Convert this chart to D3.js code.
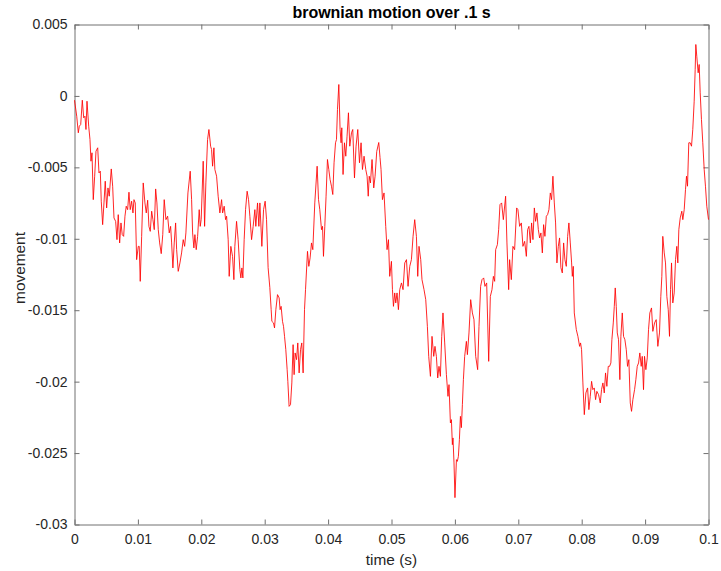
<!DOCTYPE html>
<html>
<head>
<meta charset="utf-8">
<script src="https://cdn.jsdelivr.net/npm/d3@7"></script>
<style>
  html, body { margin: 0; padding: 0; background: #fff; }
  svg { display: block; }
</style>
</head>
<body>
<script>
const titleText = "brownian motion over .1 s";
const xLabelText = "time (s)";
const yLabelText = "movement";

const xTicks = [0, 0.01, 0.02, 0.03, 0.04, 0.05, 0.06, 0.07, 0.08, 0.09, 0.1];
const xTickLabels = ["0", "0.01", "0.02", "0.03", "0.04", "0.05", "0.06", "0.07", "0.08", "0.09", "0.1"];
const yTicks = [0.005, 0, -0.005, -0.01, -0.015, -0.02, -0.025, -0.03];
const yTickLabels = ["0.005", "0", "-0.005", "-0.01", "-0.015", "-0.02", "-0.025", "-0.03"];

const time = [
0, 0.00035, 0.00060, 0.00076, 0.00098, 0.00123, 0.00145, 0.00165, 0.00181, 0.00197,
0.00224, 0.00244, 0.00260, 0.00276, 0.00296, 0.00318, 0.00339, 0.00366, 0.00386, 0.00407,
0.00422, 0.00444, 0.00465, 0.00485, 0.00507, 0.00528, 0.00548, 0.00580, 0.00602, 0.00623,
0.00649, 0.00670, 0.00690, 0.00712, 0.00733, 0.00753, 0.00775, 0.00796, 0.00816, 0.00838,
0.00859, 0.00879, 0.00901, 0.00922, 0.00938, 0.00958, 0.00980, 0.01006, 0.01021, 0.01037,
0.01059, 0.01084, 0.01111, 0.01132, 0.01154, 0.01174, 0.01195, 0.01217, 0.01237, 0.01258,
0.01280, 0.01300, 0.01321, 0.01343, 0.01368, 0.01392, 0.01415, 0.01442, 0.01469, 0.01494,
0.01516, 0.01532, 0.01552, 0.01573, 0.01595, 0.01611, 0.01636, 0.01663, 0.01689, 0.01715,
0.01737, 0.01757, 0.01789, 0.01825, 0.01847, 0.01863, 0.01883, 0.01899, 0.01920, 0.01942,
0.01967, 0.01983, 0.01998, 0.02030, 0.02052, 0.02072, 0.02099, 0.02120, 0.02147, 0.02162,
0.02178, 0.02199, 0.02214, 0.02241, 0.02266, 0.02293, 0.02320, 0.02336, 0.02361, 0.02383,
0.02399, 0.02424, 0.02440, 0.02466, 0.02493, 0.02514, 0.02529, 0.02556, 0.02581, 0.02608,
0.02624, 0.02640, 0.02656, 0.02676, 0.02698, 0.02723, 0.02745, 0.02766, 0.02793, 0.02818,
0.02845, 0.02860, 0.02887, 0.02908, 0.02924, 0.02955, 0.02982, 0.03007, 0.03029, 0.03054,
0.03081, 0.03102, 0.03113, 0.03139, 0.03155, 0.03176, 0.03202, 0.03228, 0.03243, 0.03259,
0.03281, 0.03297, 0.03313, 0.03333, 0.03354, 0.03365, 0.03385, 0.03407, 0.03428, 0.03448,
0.03464, 0.03480, 0.03502, 0.03522, 0.03543, 0.03565, 0.03585, 0.03606, 0.03628, 0.03644,
0.03675, 0.03696, 0.03716, 0.03738, 0.03759, 0.03790, 0.03827, 0.03849, 0.03869, 0.03896,
0.03912, 0.03927, 0.03948, 0.03968, 0.03990, 0.04011, 0.04031, 0.04053, 0.04074, 0.04094,
0.04117, 0.04132, 0.04148, 0.04169, 0.04189, 0.04205, 0.04216, 0.04236, 0.04258, 0.04279,
0.04299, 0.04321, 0.04342, 0.04369, 0.04389, 0.04416, 0.04441, 0.04468, 0.04495, 0.04520,
0.04542, 0.04567, 0.04594, 0.04615, 0.04633, 0.04649, 0.04668, 0.04693, 0.04720, 0.04741,
0.04767, 0.04799, 0.04819, 0.04835, 0.04857, 0.04882, 0.04909, 0.04930, 0.04952, 0.04972,
0.04999, 0.05015, 0.05031, 0.05051, 0.05067, 0.05087, 0.05109, 0.05130, 0.05157, 0.05182,
0.05209, 0.05236, 0.05261, 0.05288, 0.05314, 0.05340, 0.05366, 0.05393, 0.05414, 0.05434,
0.05461, 0.05481, 0.05513, 0.05540, 0.05566, 0.05587, 0.05614, 0.05639, 0.05666, 0.05686,
0.05708, 0.05729, 0.05749, 0.05771, 0.05792, 0.05812, 0.05839, 0.05866, 0.05891, 0.05907,
0.05929, 0.05945, 0.05960, 0.05970, 0.05986, 0.06001, 0.06024, 0.06039, 0.06055, 0.06071,
0.06087, 0.06102, 0.06118, 0.06134, 0.06154, 0.06181, 0.06197, 0.06222, 0.06249, 0.06276,
0.06301, 0.06328, 0.06359, 0.06380, 0.06406, 0.06427, 0.06454, 0.06474, 0.06501, 0.06533,
0.06559, 0.06585, 0.06607, 0.06627, 0.06643, 0.06670, 0.06690, 0.06711, 0.06737, 0.06764,
0.06800, 0.06821, 0.06848, 0.06863, 0.06890, 0.06915, 0.06942, 0.06974, 0.06994, 0.07021,
0.07048, 0.07073, 0.07100, 0.07127, 0.07147, 0.07168, 0.07190, 0.07210, 0.07231, 0.07253,
0.07273, 0.07294, 0.07316, 0.07336, 0.07357, 0.07379, 0.07399, 0.07420, 0.07442, 0.07462,
0.07483, 0.07505, 0.07525, 0.07546, 0.07568, 0.07588, 0.07609, 0.07631, 0.07651, 0.07672,
0.07694, 0.07715, 0.07735, 0.07757, 0.07778, 0.07798, 0.07820, 0.07841, 0.07852, 0.07867,
0.07883, 0.07915, 0.07940, 0.07967, 0.07982, 0.07998, 0.08019, 0.08041, 0.08066, 0.08093,
0.08113, 0.08135, 0.08156, 0.08176, 0.08198, 0.08219, 0.08239, 0.08266, 0.08293, 0.08313,
0.08334, 0.08356, 0.08376, 0.08397, 0.08419, 0.08440, 0.08460, 0.08476, 0.08498, 0.08514,
0.08529, 0.08545, 0.08561, 0.08581, 0.08602, 0.08618, 0.08640, 0.08660, 0.08681, 0.08703,
0.08723, 0.08744, 0.08766, 0.08786, 0.08807, 0.08834, 0.08854, 0.08876, 0.08897, 0.08917,
0.08939, 0.08955, 0.08975, 0.08991, 0.09012, 0.09034, 0.09054, 0.09075, 0.09101, 0.09122,
0.09149, 0.09175, 0.09201, 0.09227, 0.09248, 0.09264, 0.09279, 0.09302, 0.09322, 0.09343,
0.09365, 0.09385, 0.09401, 0.09417, 0.09437, 0.09459, 0.09480, 0.09500, 0.09516, 0.09532,
0.09554, 0.09579, 0.09595, 0.09617, 0.09637, 0.09653, 0.09669, 0.09689, 0.09711, 0.09732,
0.09752, 0.09774, 0.09790, 0.09800, 0.09815, 0.09837, 0.09853, 0.09869, 0.09889, 0.09910,
0.09932, 0.09952, 0.09973, 0.1
];

const movement = [
-0.0003, -0.00142, -0.00258, -0.00212, -0.00200, -0.00030, -0.00153, -0.00142, -0.00235, -0.00037,
-0.00212, -0.00305, -0.00457, -0.00398, -0.00726, -0.00562, -0.00387, -0.00363, -0.00539, -0.00527,
-0.00737, -0.00901, -0.00749, -0.00597, -0.00784, -0.00644, -0.00702, -0.00511, -0.00632, -0.00854,
-0.00878, -0.01006, -0.00831, -0.01029, -0.00889, -0.00971, -0.00983, -0.00842, -0.00772, -0.00796,
-0.00674, -0.00796, -0.00737, -0.00819, -0.00726, -0.00749, -0.01146, -0.01053, -0.01053, -0.01298,
-0.00983, -0.00609, -0.00749, -0.00819, -0.00730, -0.00913, -0.00948, -0.00807, -0.00866, -0.00936,
-0.00651, -0.00749, -0.00936, -0.01029, -0.01104, -0.00971, -0.00726, -0.00866, -0.00842, -0.00959,
-0.00913, -0.01029, -0.01204, -0.01029, -0.00889, -0.01076, -0.01228, -0.01169, -0.01099, -0.01006,
-0.01053, -0.00959, -0.00679, -0.00527, -0.00726, -0.00959, -0.01064, -0.00971, -0.01076, -0.00983,
-0.00796, -0.00913, -0.00866, -0.00457, -0.00913, -0.00609, -0.00305, -0.00235, -0.00352, -0.00375,
-0.00492, -0.00363, -0.00515, -0.00562, -0.00702, -0.00819, -0.00726, -0.00819, -0.00772, -0.00866,
-0.00842, -0.01006, -0.01263, -0.01053, -0.01123, -0.01286, -0.01053, -0.00878, -0.01006, -0.01216,
-0.01274, -0.01204, -0.01274, -0.01006, -0.00796, -0.00667, -0.00726, -0.00842, -0.01006, -0.00913,
-0.00796, -0.00913, -0.00749, -0.00913, -0.00749, -0.01053, -0.00796, -0.00737, -0.00866, -0.01202,
-0.01342, -0.01496, -0.01578, -0.01589, -0.01624, -0.01496, -0.01391, -0.01414, -0.01496, -0.01473,
-0.01578, -0.01613, -0.01683, -0.01776, -0.01916, -0.01998, -0.02173, -0.02161, -0.02009, -0.01741,
-0.01951, -0.01799, -0.01846, -0.01729, -0.01939, -0.01776, -0.01729, -0.01939, -0.01496, -0.01356,
-0.01088, -0.01193, -0.01134, -0.01029, -0.01076, -0.00749, -0.00492, -0.00726, -0.00796, -0.00936,
-0.00913, -0.01123, -0.00913, -0.00702, -0.00445, -0.00515, -0.00585, -0.00632, -0.00690, -0.00468,
-0.00328, -0.00305, -0.00095, 0.00080, -0.00235, -0.00328, -0.00223, -0.00550, -0.00328, -0.00422,
-0.00282, -0.00118, -0.00352, -0.00258, -0.00235, -0.00574, -0.00352, -0.00235, -0.00468, -0.00328,
-0.00515, -0.00422, -0.00515, -0.00562, -0.00702, -0.00562, -0.00609, -0.00445, -0.00644, -0.00562,
-0.00389, -0.00326, -0.00431, -0.00515, -0.00726, -0.00679, -0.00913, -0.01076, -0.01006, -0.01263,
-0.01158, -0.01356, -0.01473, -0.01379, -0.01449, -0.01379, -0.01496, -0.01356, -0.01309, -0.01356,
-0.01169, -0.01146, -0.01333, -0.01193, -0.01146, -0.00983, -0.00866, -0.00983, -0.01263, -0.01053,
-0.01146, -0.01286, -0.01356, -0.01426, -0.01613, -0.01823, -0.01963, -0.01683, -0.01823, -0.01753,
-0.01823, -0.01974, -0.01893, -0.01963, -0.01683, -0.01519, -0.01729, -0.01951, -0.02103, -0.02021,
-0.02289, -0.02266, -0.02441, -0.02394, -0.02569, -0.02812, -0.02546, -0.02558, -0.02523, -0.02406,
-0.02243, -0.02322, -0.02161, -0.01986, -0.01823, -0.01718, -0.01811, -0.01659, -0.01426, -0.01519,
-0.01566, -0.01823, -0.01916, -0.01613, -0.01333, -0.01286, -0.01274, -0.01333, -0.01309, -0.01858,
-0.01403, -0.01356, -0.01263, -0.01298, -0.01076, -0.01041, -0.00936, -0.00761, -0.00749, -0.00866,
-0.00702, -0.01029, -0.01356, -0.01146, -0.01286, -0.01053, -0.01076, -0.00784, -0.00796, -0.00913,
-0.00889, -0.01053, -0.01018, -0.01123, -0.00936, -0.00913, -0.01029, -0.00889, -0.01006, -0.00784,
-0.00878, -0.00819, -0.00936, -0.00994, -0.00959, -0.01099, -0.00901, -0.00983, -0.00842, -0.00831,
-0.00796, -0.00679, -0.00726, -0.00562, -0.00749, -0.00889, -0.01169, -0.01053, -0.00994, -0.01202,
-0.01239, -0.01029, -0.01146, -0.01193, -0.00983, -0.00889, -0.01029, -0.01169, -0.01263, -0.01193,
-0.01519, -0.01636, -0.01683, -0.01753, -0.01729, -0.01776, -0.02009, -0.02231, -0.02079, -0.02044,
-0.02196, -0.02103, -0.01998, -0.02056, -0.02044, -0.02126, -0.02068, -0.02091, -0.02149, -0.02056,
-0.02009, -0.02079, -0.01939, -0.02033, -0.01893, -0.01893, -0.01869, -0.01706, -0.01589, -0.01473,
-0.01344, -0.01473, -0.01659, -0.01706, -0.01986, -0.01683, -0.01519, -0.01683, -0.01706, -0.01776,
-0.01893, -0.01846, -0.02149, -0.02208, -0.02126, -0.02056, -0.01986, -0.01893, -0.01869, -0.01799,
-0.01893, -0.01823, -0.02056, -0.01823, -0.01916, -0.01834, -0.01636, -0.01519, -0.01484, -0.01648,
-0.01589, -0.01566, -0.01753, -0.01659, -0.01403, -0.01263, -0.00983, -0.01099, -0.01169, -0.01403,
-0.01496, -0.01683, -0.01356, -0.01169, -0.01449, -0.01379, -0.01146, -0.01053, -0.01169, -0.00936,
-0.00854, -0.00807, -0.00866, -0.00796, -0.00656, -0.00562, -0.00632, -0.00328, -0.00328, -0.00352,
-0.00235, -0.00037, 0.00185, 0.00360, 0.00278, 0.00162, 0.00220, 0.00022, -0.00165, -0.00328,
-0.00515, -0.00632, -0.00772, -0.00866
];

const W = 721, H = 571;
const mLeft = 74.5, mRight = 708.5, mTop = 24.5, mBottom = 524.5;
const font = "'Liberation Sans', Arial, Helvetica, sans-serif";
const axisColor = "#707070";
const textColor = "#262626";

const svg = d3.select("body").append("svg")
  .attr("width", W).attr("height", H)
  .attr("viewBox", `0 0 ${W} ${H}`);

svg.append("rect").attr("width", W).attr("height", H).attr("fill", "#fff");

const x = d3.scaleLinear().domain([0, 0.1]).range([mLeft, mRight]);
const y = d3.scaleLinear().domain([-0.03, 0.005]).range([mBottom, mTop]);

function styleAxis(g) {
  g.attr("font-family", font).attr("font-size", 14);
  g.select(".domain").attr("stroke", axisColor).attr("stroke-width", 1);
  g.selectAll(".tick line").attr("stroke", axisColor).attr("stroke-width", 1);
  g.selectAll(".tick text").attr("fill", textColor);
}

// bottom axis
svg.append("g")
  .attr("transform", `translate(0,${mBottom})`)
  .call(d3.axisBottom(x).tickValues(xTicks)
    .tickFormat((d, i) => xTickLabels[i])
    .tickSizeInner(-5).tickSizeOuter(0).tickPadding(10))
  .call(styleAxis);

// left axis
svg.append("g")
  .attr("transform", `translate(${mLeft},0)`)
  .call(d3.axisLeft(y).tickValues(yTicks)
    .tickFormat((d, i) => yTickLabels[i])
    .tickSizeInner(-5).tickSizeOuter(0).tickPadding(7))
  .call(styleAxis);

// top axis (box)
svg.append("g")
  .attr("transform", `translate(0,${mTop})`)
  .call(d3.axisTop(x).tickValues(xTicks).tickFormat(() => "")
    .tickSizeInner(-5).tickSizeOuter(0))
  .call(styleAxis);

// right axis (box)
svg.append("g")
  .attr("transform", `translate(${mRight},0)`)
  .call(d3.axisRight(y).tickValues(yTicks).tickFormat(() => "")
    .tickSizeInner(-5).tickSizeOuter(0))
  .call(styleAxis);

// data line
const n = Math.min(time.length, movement.length);
const pts = d3.range(n).map(i => [time[i], movement[i]]);
const line = d3.line().x(d => x(d[0])).y(d => y(d[1]));
svg.append("path")
  .datum(pts)
  .attr("d", line)
  .attr("fill", "none")
  .attr("stroke", "#ff0000")
  .attr("stroke-width", 0.85)
  .attr("stroke-linejoin", "round");

// title
svg.append("text")
  .attr("x", (mLeft + mRight) / 2).attr("y", 18)
  .attr("text-anchor", "middle")
  .attr("font-family", font).attr("font-size", 16).attr("font-weight", "bold")
  .attr("fill", "#000")
  .text(titleText);

// x label
svg.append("text")
  .attr("x", (mLeft + mRight) / 2).attr("y", 565)
  .attr("text-anchor", "middle")
  .attr("font-family", font).attr("font-size", 15.4)
  .attr("fill", textColor)
  .text(xLabelText);

// y label
svg.append("text")
  .attr("transform", `translate(25,268) rotate(-90)`)
  .attr("text-anchor", "middle")
  .attr("font-family", font).attr("font-size", 15.4)
  .attr("fill", textColor)
  .text(yLabelText);
</script>
</body>
</html>
